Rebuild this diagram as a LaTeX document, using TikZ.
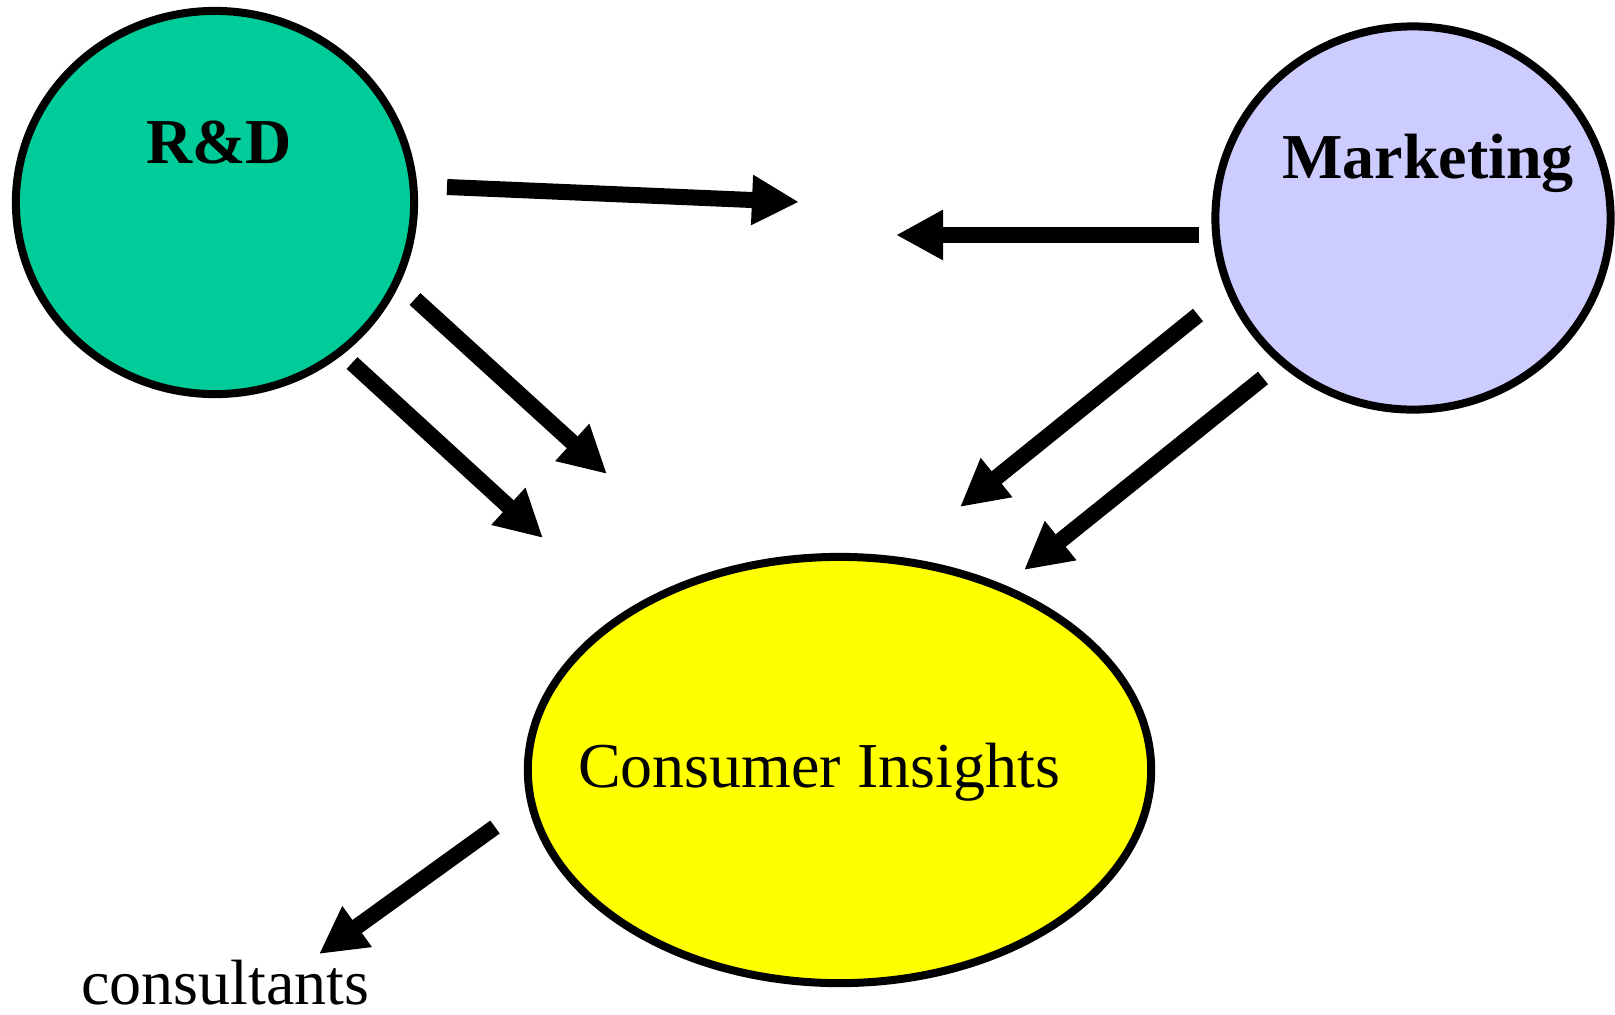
\documentclass[tikz,border=0pt]{standalone}
\usepackage{fontspec}
\setmainfont{Liberation Serif}
\usetikzlibrary{arrows.meta,shapes.geometric}
\definecolor{rdgreen}{HTML}{00CC99}
\definecolor{mktblue}{HTML}{CCCCFF}
\definecolor{ciyellow}{HTML}{FFFF00}

\begin{document}
\begin{tikzpicture}[x=0.01cm, y=-0.01cm,
        blob/.style={ellipse, draw, line width=0.08cm, inner sep=0pt},
        lbl/.style={anchor=base, inner sep=0pt, font=\fontsize{18.2}{20}\selectfont},
        flow/.style={line width=0.16cm, -{Triangle[length=0.47cm,width=0.47cm]}}]
    \useasboundingbox (0,0) rectangle (1615,1014);
    % departments
    \node[blob, fill=rdgreen, minimum width=3.98cm, minimum height=3.83cm] (rd) at (215,202.5) {};
    \node[blob, fill=mktblue, minimum width=3.95cm, minimum height=3.83cm] (mkt) at (1413,218) {};
    \node[blob, fill=ciyellow, minimum width=6.23cm, minimum height=4.26cm] (ci) at (839.5,770) {};
    \node[lbl, font=\fontsize{18.2}{20}\selectfont\bfseries] (rd-t) at (219,163) {R\&D};
    \node[lbl, font=\fontsize{18.2}{20}\selectfont\bfseries] (mkt-t) at (1428,178) {Marketing};
    \node[lbl] (ci-t) at (819,787) {Consumer Insights};
    \node[lbl] (cons) at (225.5,1004) {consultants};
    % flows
    \foreach[count=\i] \sx/\sy/\tx/\ty in {447/187/799/202, 1199/235/896/235,
            415/299/607/474, 352/363/543/538, 1198/315/960/507,
            1263/378/1024/570, 495/827/319/954} {
        \coordinate (s-\i) at (\sx,\sy);
        \coordinate (t-\i) at (\tx,\ty);
        \draw[flow] (s-\i) -- (t-\i);
    }
\end{tikzpicture}
\end{document}
